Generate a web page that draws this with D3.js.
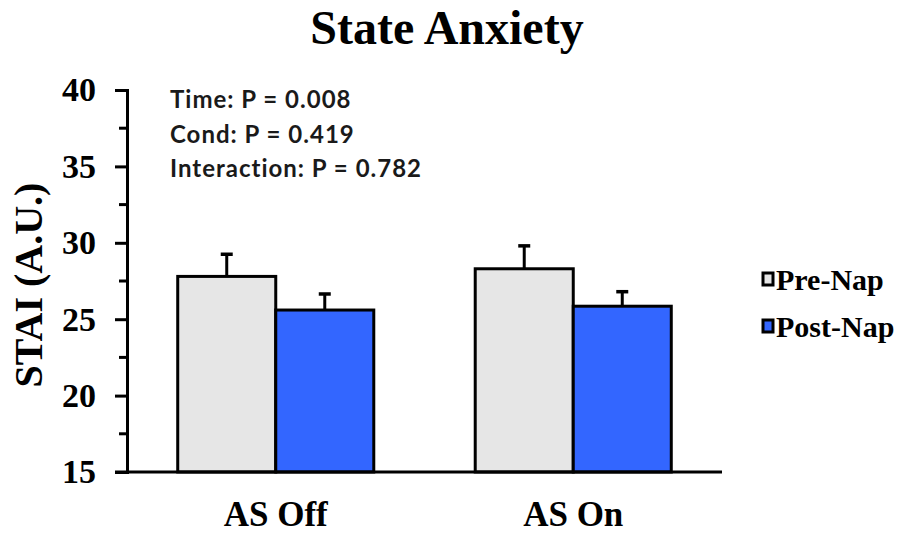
<!DOCTYPE html>
<html>
<head>
<meta charset="utf-8">
<script src="https://cdnjs.cloudflare.com/ajax/libs/d3/7.8.5/d3.min.js"></script>
<style>
  html, body { margin: 0; padding: 0; background: #fff; }
  svg { display: block; }
</style>
</head>
<body>
<svg id="chart" width="904" height="533"></svg>
<script>
// State anxiety (STAI) before and after a nap, by condition
const categories = ["AS Off", "AS On"];
const seriesNames = ["Pre-Nap", "Post-Nap"];
const preNap = [27.8, 28.3];
const postNap = [25.6, 25.85];
const preNapErr = [1.45, 1.5];
const postNapErr = [1.05, 0.95];
const yTicks = [15, 20, 25, 30, 35, 40];
const statsLines = ["Time: P = 0.008", "Cond: P = 0.419", "Interaction: P = 0.782"];

const colors = { "Pre-Nap": "#e6e6e6", "Post-Nap": "#3366ff" };
const serifBold = "'Liberation Serif', 'Times New Roman', serif";

const svg = d3.select("#chart");

const plot = { left: 127, right: 722, top: 90, bottom: 472 };

const y = d3.scaleLinear().domain([15, 40]).range([plot.bottom, plot.top]);
const x0 = d3.scaleBand().domain(categories).range([plot.left, plot.right])
  .paddingInner(0.341).paddingOuter(0.1705);
const x1 = d3.scaleBand().domain(seriesNames).range([0, x0.bandwidth()]);

const rows = [];
categories.forEach((c, i) => {
  rows.push({ cat: c, series: "Pre-Nap", value: preNap[i], err: preNapErr[i] });
  rows.push({ cat: c, series: "Post-Nap", value: postNap[i], err: postNapErr[i] });
});

// Bars
svg.append("g").selectAll("rect").data(rows).join("rect")
  .attr("x", d => x0(d.cat) + x1(d.series))
  .attr("y", d => y(d.value))
  .attr("width", x1.bandwidth())
  .attr("height", d => y(15) - y(d.value))
  .attr("fill", d => colors[d.series])
  .attr("stroke", "#000")
  .attr("stroke-width", 3);

// Error bars (upper only)
const eb = svg.append("g").selectAll("g").data(rows).join("g");
eb.append("line")
  .attr("x1", d => x0(d.cat) + x1(d.series) + x1.bandwidth() / 2)
  .attr("x2", d => x0(d.cat) + x1(d.series) + x1.bandwidth() / 2)
  .attr("y1", d => y(d.value))
  .attr("y2", d => y(d.value + d.err))
  .attr("stroke", "#000").attr("stroke-width", 3);
eb.append("line")
  .attr("x1", d => x0(d.cat) + x1(d.series) + x1.bandwidth() / 2 - 6)
  .attr("x2", d => x0(d.cat) + x1(d.series) + x1.bandwidth() / 2 + 6)
  .attr("y1", d => y(d.value + d.err))
  .attr("y2", d => y(d.value + d.err))
  .attr("stroke", "#000").attr("stroke-width", 3.5);

// Y axis with major and minor ticks
const yAxisG = svg.append("g").attr("transform", `translate(${plot.left},0)`);
const minorTicks = d3.range(17.5, 40, 5);
yAxisG.selectAll(".minor").data(minorTicks).join("line")
  .attr("x1", -8).attr("x2", 0)
  .attr("y1", d => y(d)).attr("y2", d => y(d))
  .attr("stroke", "#000").attr("stroke-width", 3);
yAxisG.call(d3.axisLeft(y).tickValues(yTicks).tickSize(12).tickPadding(19))
  .call(g => g.select(".domain").attr("stroke-width", 3))
  .call(g => g.selectAll(".tick line").attr("stroke-width", 3))
  .call(g => g.selectAll(".tick text")
    .attr("font-family", serifBold).attr("font-weight", "bold")
    .attr("font-size", 34).attr("fill", "#000"));

// X axis line
svg.append("line")
  .attr("x1", plot.left - 12).attr("x2", plot.right)
  .attr("y1", plot.bottom).attr("y2", plot.bottom)
  .attr("stroke", "#000").attr("stroke-width", 3);

// Category labels
svg.append("g").selectAll("text").data(categories).join("text")
  .attr("x", d => x0(d) + x0.bandwidth() / 2)
  .attr("y", 526)
  .attr("text-anchor", "middle")
  .attr("font-family", serifBold).attr("font-weight", "bold")
  .attr("font-size", 35)
  .text(d => d);

// Title
svg.append("text")
  .attr("x", 447).attr("y", 44)
  .attr("text-anchor", "middle")
  .attr("font-family", serifBold).attr("font-weight", "bold")
  .attr("font-size", 48)
  .text("State Anxiety");

// Y axis title
svg.append("text")
  .attr("transform", "translate(42,285) rotate(-90)")
  .attr("text-anchor", "middle")
  .attr("font-family", serifBold).attr("font-weight", "bold")
  .attr("font-size", 40)
  .text("STAI (A.U.)");

// Statistics annotation
svg.append("g").selectAll("text").data(statsLines).join("text")
  .attr("x", 170)
  .attr("y", (d, i) => 108 + i * 34.5)
  .attr("font-family", "Lato, 'Open Sans', sans-serif").attr("font-weight", "bold")
  .attr("font-size", 24)
  .attr("letter-spacing", 1)
  .attr("fill", "#1a1a1a")
  .text(d => d);

// Legend
const legend = svg.append("g").selectAll("g").data(seriesNames).join("g")
  .attr("transform", (d, i) => `translate(763,${273 + i * 47})`);
legend.append("rect")
  .attr("width", 10).attr("height", 12)
  .attr("fill", d => colors[d])
  .attr("stroke", "#000").attr("stroke-width", 3);
legend.append("text")
  .attr("x", 13).attr("y", 17)
  .attr("font-family", serifBold).attr("font-weight", "bold")
  .attr("font-size", 30)
  .text(d => d);
</script>
</body>
</html>
